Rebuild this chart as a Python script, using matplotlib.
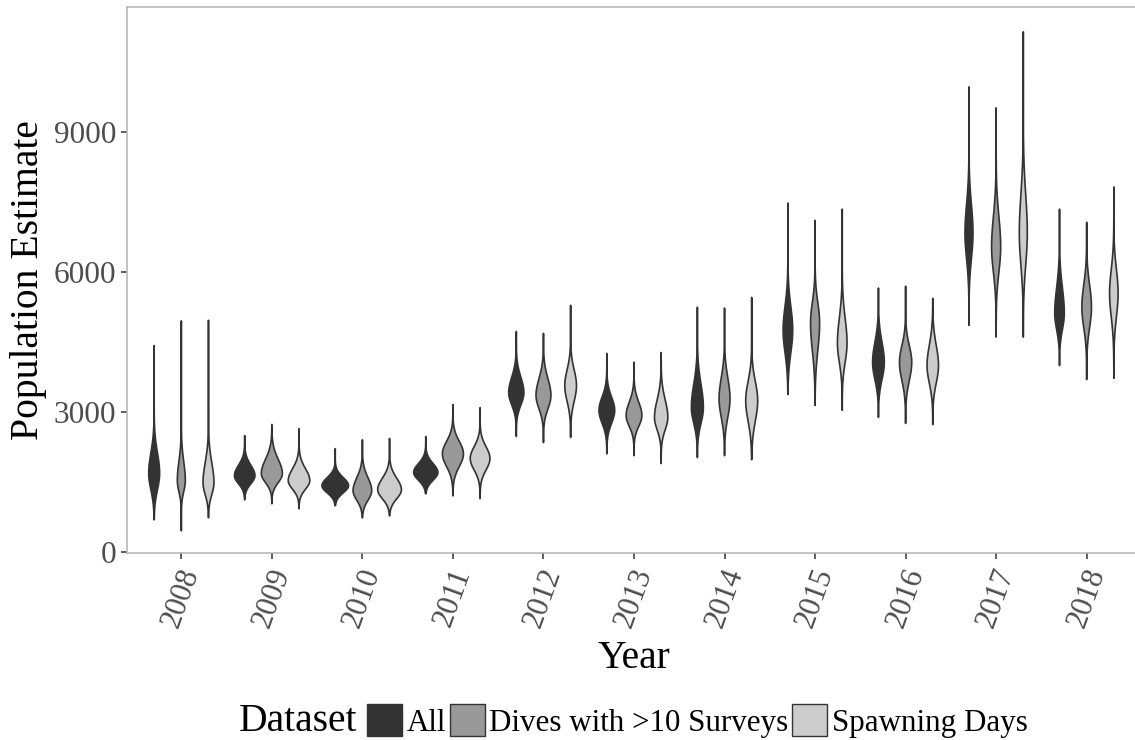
import numpy as np
import matplotlib
matplotlib.use("Agg")
import matplotlib.pyplot as plt
from matplotlib.patches import Patch

plt.rcParams['font.family'] = ['Liberation Serif', 'DejaVu Serif']

# ---------------- data ----------------
years = ["2008", "2009", "2010", "2011", "2012", "2013",
         "2014", "2015", "2016", "2017", "2018"]
datasets = ["All", "Dives with >10 Surveys", "Spawning Days"]

# All
all_min   = [687, 1116, 990, 1245, 2470, 2100, 2020, 3370, 2880, 4850, 3990]
all_max   = [4420, 2490, 2210, 2470, 4720, 4250, 5240, 7470, 5650, 9960, 7340]
all_mode  = [1680, 1630, 1417, 1700, 3410, 3030, 3090, 4745, 4060, 6830, 5110]
all_blo   = [945, 1270, 1095, 1350, 2855, 2450, 2380, 3735, 3285, 5670, 4380]
all_bhi   = [2600, 2100, 1780, 2100, 4100, 3630, 4140, 5820, 4960, 8115, 6250]
all_dens  = [0.41, 0.77, 1.00, 0.91, 0.57, 0.59, 0.45, 0.36, 0.44, 0.30, 0.36]

# Dives with >10 Surveys
div_min   = [450, 1030, 730, 1200, 2340, 2060, 2060, 3135, 2750, 4600, 3690]
div_max   = [4940, 2727, 2400, 3155, 4680, 4060, 5220, 7100, 5690, 9510, 7060]
div_mode  = [1525, 1675, 1310, 2100, 3350, 2920, 3280, 4900, 4060, 6530, 5240]
div_blo   = [1030, 1270, 880, 1525, 2750, 2430, 2450, 3670, 3240, 5390, 4315]
div_bhi   = [2380, 2320, 1890, 2660, 4100, 3520, 4210, 5820, 4810, 7900, 6250]
div_dens  = [0.30, 0.79, 0.70, 0.79, 0.56, 0.59, 0.41, 0.34, 0.46, 0.34, 0.36]

# Spawning Days
spa_min   = [730, 923, 773, 1140, 2450, 1890, 1975, 3030, 2725, 4600, 3715]
spa_max   = [4960, 2640, 2430, 3090, 5280, 4270, 5450, 7340, 5430, 11140, 7815]
spa_mode  = [1480, 1525, 1330, 2000, 3560, 2880, 3240, 4470, 3990, 6830, 5540]
spa_blo   = [945, 1140, 923, 1480, 2855, 2320, 2320, 3600, 3200, 5390, 4465]
spa_bhi   = [2380, 2060, 1850, 2530, 4270, 3670, 4100, 5600, 4900, 8545, 6610]
spa_dens  = [0.41, 0.81, 0.89, 0.74, 0.44, 0.50, 0.45, 0.36, 0.43, 0.30, 0.32]

y_ticks = [0, 3000, 6000, 9000]

# ---------------- styling ----------------
fills = ["#333333", "#999999", "#cccccc"]
edge = "#333333"
grey_text = "#4d4d4d"

series = [
    (all_min, all_max, all_mode, all_blo, all_bhi, all_dens),
    (div_min, div_max, div_mode, div_blo, div_bhi, div_dens),
    (spa_min, spa_max, spa_mode, spa_blo, spa_bhi, spa_dens),
]

W, H = 1135, 740
fig = plt.figure(figsize=(W / 100, H / 100), dpi=100)
ax = fig.add_axes([127 / W, 1 - 553 / H, (1141 - 127) / W, (553 - 7) / H])

max_half = 0.147
dodge = 0.3
for k, (mn, mx, md, blo, bhi, dens) in enumerate(series):
    for i in range(len(years)):
        xc = i + 1 + (k - 1) * dodge
        y = np.linspace(mn[i], mx[i], 400)
        s_lo = (md[i] - blo[i]) / 2.1
        s_hi = (bhi[i] - md[i]) / 2.1
        s = np.where(y < md[i], s_lo, s_hi)
        w = dens[i] * max_half * np.exp(-0.5 * ((y - md[i]) / s) ** 2)
        xs = np.concatenate([xc - w, (xc + w)[::-1]])
        ys = np.concatenate([y, y[::-1]])
        ax.fill(xs, ys, facecolor=fills[k], edgecolor=edge, lw=1.2,
                joinstyle='round', zorder=3)

ax.set_xlim(0.4, len(years) + 0.6)
ax.set_ylim(-25, 11670)
ax.set_xticks(range(1, len(years) + 1))
ax.set_xticklabels(years, rotation=70, ha='center', va='top',
                   fontsize=22, color=grey_text)
ax.set_yticks(y_ticks)
ax.set_yticklabels([str(v) for v in y_ticks], fontsize=22.5, color=grey_text)
ax.tick_params(axis='both', length=4, width=1.1, color=edge, pad=4)

for sp in ax.spines.values():
    sp.set_color("#b3b3b3")
    sp.set_linewidth(1.1)

fig.text(634 / W, 1 - 668 / H, "Year", fontsize=28.5, ha='center', va='baseline')
fig.text(29 / W, 1 - 280 / H, "Population Estimate", fontsize=28.5,
         rotation=90, ha='center', va='center')

fig.text(239 / W, 1 - 731 / H, "Dataset", fontsize=28.5, ha='left', va='baseline')
handles = [Patch(facecolor=c, edgecolor=edge, lw=1.0) for c in fills]
fig.legend(handles, datasets, loc='center left',
           bbox_to_anchor=(367 / W, 1 - 721 / H), ncol=3, frameon=False,
           fontsize=22.3, handlelength=1.13, handleheight=1.2,
           handletextpad=0.15, columnspacing=0.12, borderpad=0,
           borderaxespad=0)

fig.savefig("out.png", dpi=100, facecolor="white")
